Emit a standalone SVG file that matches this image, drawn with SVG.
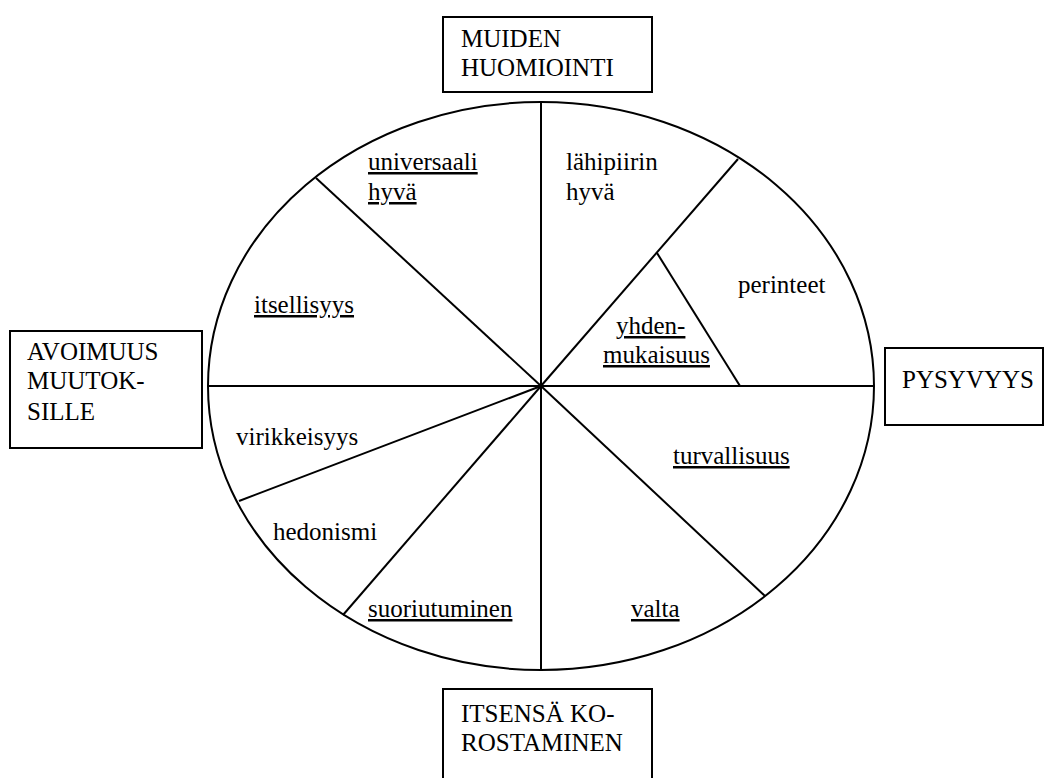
<svg xmlns="http://www.w3.org/2000/svg" width="1048" height="778" viewBox="0 0 1048 778">
<style>
.t{font-family:'Liberation Serif','Times New Roman','DejaVu Serif',serif;font-size:25px;fill:#000}
.u{text-decoration:underline}
.box{fill:#fff;stroke:#000;stroke-width:2}
.ln{stroke:#000;stroke-width:2;fill:none}
</style>
<rect width="1048" height="778" fill="#fff"/>
<g id="wheel">
<ellipse class="ln" cx="541" cy="386" rx="333" ry="284"/>
</g>
<g id="connectors">
<line class="ln" x1="541" y1="102" x2="541" y2="670"/>
<line class="ln" x1="208" y1="386" x2="874" y2="386"/>
<line class="ln" x1="541" y1="386" x2="316" y2="178"/>
<line class="ln" x1="541" y1="386" x2="738" y2="159"/>
<line class="ln" x1="657" y1="253" x2="740" y2="386"/>
<line class="ln" x1="541" y1="386" x2="239" y2="501"/>
<line class="ln" x1="541" y1="386" x2="343" y2="615"/>
<line class="ln" x1="541" y1="386" x2="765" y2="596"/>
</g>
<g id="labels" class="t">
<text class="u" x="368" y="170">universaali</text>
<text class="u" x="368" y="200">hyvä</text>
<text x="566" y="170">lähipiirin</text>
<text x="566" y="200">hyvä</text>
<text class="u" x="254" y="313">itsellisyys</text>
<text x="738" y="293">perinteet</text>
<text class="u" x="616" y="334">yhden-</text>
<text class="u" x="603" y="363">mukaisuus</text>
<text x="236" y="445">virikkeisyys</text>
<text class="u" x="673" y="464">turvallisuus</text>
<text x="273" y="540">hedonismi</text>
<text class="u" x="368" y="617">suoriutuminen</text>
<text class="u" x="631" y="617">valta</text>
</g>
<g id="node-top" class="t">
<rect class="box" x="443" y="17" width="209" height="75"/>
<text x="461" y="47">MUIDEN</text>
<text x="461" y="76">HUOMIOINTI</text>
</g>
<g id="node-left" class="t">
<rect class="box" x="10" y="331" width="192" height="117"/>
<text x="27" y="360">AVOIMUUS</text>
<text x="27" y="389">MUUTOK-</text>
<text x="27" y="420">SILLE</text>
</g>
<g id="node-right" class="t">
<rect class="box" x="885" y="348" width="158" height="77"/>
<text x="902" y="388">PYSYVYYS</text>
</g>
<g id="node-bottom" class="t">
<rect class="box" x="443" y="689" width="209" height="100"/>
<text x="461" y="722">ITSENSÄ KO-</text>
<text x="461" y="751">ROSTAMINEN</text>
</g>
</svg>
